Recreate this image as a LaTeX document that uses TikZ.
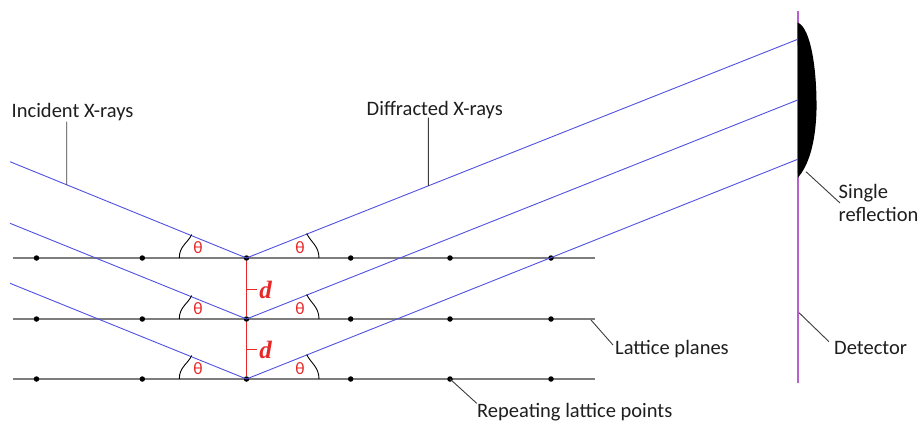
\documentclass[tikz,border=0pt]{standalone}
\usepackage{fontspec}
\setmainfont{Carlito}
\newfontfamily\dfont{Liberation Serif}
\usetikzlibrary{calc}
\definecolor{rayblue}{RGB}{80,80,225}
\definecolor{latgray}{RGB}{125,125,125}
\definecolor{detpurple}{RGB}{185,95,205}
\definecolor{angred}{RGB}{232,40,40}
\definecolor{txtgray}{RGB}{30,30,30}
\definecolor{leadgray}{RGB}{60,60,60}
\tikzset{
  lpt/.style={circle,fill=black,inner sep=0pt,minimum size=5.5pt},
  ray/.style={rayblue,line width=0.9pt},
  plane/.style={latgray,line width=1.3pt},
  leader/.style={leadgray,line width=0.9pt},
  lbl/.style={anchor=base west,inner sep=0pt,text=txtgray,font=\fontsize{20.5}{22.5}\selectfont},
  angarc/.style={black,line width=0.9pt},
  thlbl/.style={text=angred,inner sep=0pt,font=\fontsize{17.5}{19}\selectfont},
  dlbl/.style={text=angred,inner sep=0pt,font=\dfont\bfseries\itshape\fontsize{25}{27}\selectfont},
}
\begin{document}
\begin{tikzpicture}[x=1pt,y=-1pt]
\useasboundingbox (0,0) rectangle (922,421);
% lattice planes
\foreach \r/\y in {1/258,2/319,3/379}{
  \coordinate (l\r) at (12.5,\y);
  \coordinate (r\r) at (594.5,\y);
  \draw[plane] (l\r) -- (r\r);
  \foreach \c/\x in {1/36.5,2/142.3,3/246.5,4/350.7,5/450,6/551}{
    \node[lpt] (p\r\c) at (\x,\y) {};
  }
}
% detector
\coordinate (dtop) at (797.7,11);
\coordinate (dbot) at (797.7,383);
\draw[detpurple,line width=1.6pt] (dtop) -- (dbot);
% single reflection spot
\fill[black] (797.7,22.5) .. controls (811,28) and (817,70) .. (816.5,110)
   .. controls (815.5,145) and (808,166) .. (798,177.5) -- cycle;
% incident rays
\coordinate (in1) at (10,161.7);
\coordinate (in2) at (10,223.3);
\coordinate (in3) at (10,283.3);
\coordinate (out1) at (797.7,39.3);
\coordinate (out2) at (797.7,100);
\coordinate (out3) at (797.7,159.3);
\foreach \r in {1,2,3}{
  \draw[ray] (in\r) -- (p\r3.center) -- (out\r);
}
% angle arcs and theta labels
\foreach \r/\y in {1/258,2/319,3/379}{
  \draw[angarc] (179.3,\y) .. controls (179.3,\y-12) and (187.8,\y-15) .. (191.7,\y-23.5);
  \draw[angarc] (319,\y) .. controls (319,\y-12) and (310.7,\y-16) .. (306.7,\y-24.5);
  \node[thlbl] (thl\r) at (198,\y-10) {θ};
  \node[thlbl] (thr\r) at (300,\y-10) {θ};
}
% d spacing
\draw[angred,line width=1.3pt] (p13) -- (p23);
\draw[angred,line width=1.3pt] (p23) -- (p33);
\coordinate (t1a) at (246.5,289.3); \coordinate (t1b) at (256.5,289.3);
\coordinate (t2a) at (246.5,349.3); \coordinate (t2b) at (256.5,349.3);
\draw[angred,line width=1.3pt] (t1a) -- (t1b);
\draw[angred,line width=1.3pt] (t2a) -- (t2b);
\node[dlbl] (d1) at (265.5,289.5) {d};
\node[dlbl] (d2) at (265.5,349.5) {d};
% labels
\node[lbl] (inc) at (11.5,117.5) {Incident X-rays};
\node[lbl] (dif) at (366.5,115) {Diffracted X-rays};
\node[lbl,align=left] (sgl) at (838.5,221) {Single\\reflection};
\node[lbl] (det) at (834,354) {Detector};
\node[lbl] (lat) at (615,354) {Lattice planes};
\node[lbl] (rep) at (477,417) {Repeating lattice points};
% leaders
\coordinate (incA) at (66.7,121.7);
\coordinate (incB) at ($(in1)!0.24!(p13.center)$);
\draw[leader] (incA) -- (incB);
\coordinate (difA) at (428.3,117.5);
\coordinate (difB) at ($(p13.center)!0.33!(out1)$);
\draw[leader] (difA) -- (difB);
\coordinate (sglA) at (806,171.7);
\coordinate (sglB) at (840,203);
\draw[leader] (sglA) -- (sglB);
\coordinate (detA) at (799,312.7);
\coordinate (detB) at (829,341.7);
\draw[leader] (detA) -- (detB);
\coordinate (latA) at (591,320);
\coordinate (latB) at (613,345);
\draw[leader] (latA) -- (latB);
\coordinate (repB) at (476.7,403.3);
\draw[leader] (p35.center) -- (repB);
\end{tikzpicture}
\end{document}
